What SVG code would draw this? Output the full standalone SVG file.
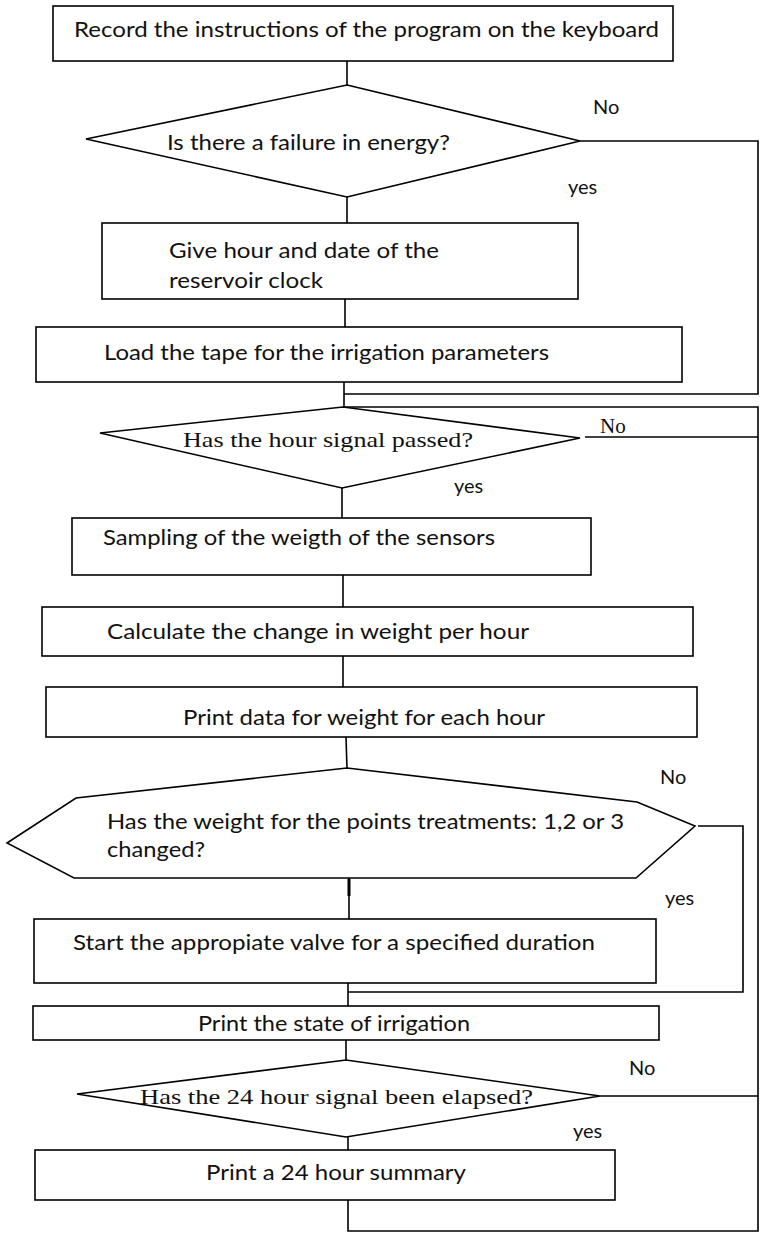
<svg xmlns="http://www.w3.org/2000/svg" width="761" height="1240" viewBox="0 0 761 1240">
<style>
.s{fill:#fff;stroke:#000;stroke-width:1.6}
.c{fill:none;stroke:#000;stroke-width:1.6}
.t{font-family:Lato,"Liberation Sans",sans-serif;font-size:22px;fill:#111}
.r{font-family:"Liberation Serif",serif;font-size:21px;fill:#111}
.l{font-family:Lato,"Liberation Sans",sans-serif;font-size:20px;fill:#111}
</style>
<rect width="761" height="1240" fill="#fff"/>
<g id="connectors">
<path class="c" d="M347,61V85"/>
<path class="c" d="M580,141H758V394H344"/>
<path class="c" d="M347,197V223"/>
<path class="c" d="M345,299V327"/>
<path class="c" d="M344,382V407"/>
<path class="c" d="M343,407H758V1231H348V1200"/>
<path class="c" d="M585,437H758"/>
<path class="c" d="M342,488V518"/>
<path class="c" d="M343,575V607"/>
<path class="c" d="M343,656V687"/>
<path class="c" d="M346,737L347,768"/>
<path class="c" d="M349,878V919"/>
<path d="M349,879V896" stroke="#000" stroke-width="3"/>
<path class="c" d="M698,826H743V992H348"/>
<path class="c" d="M348,983V1006"/>
<path class="c" d="M346,1040V1060"/>
<path class="c" d="M600,1096H758"/>
<path class="c" d="M348,1137V1150"/>
<text class="l" x="593" y="114">No</text>
<text class="l" x="568" y="194">yes</text>
<text class="r" x="600" y="433">No</text>
<text class="l" x="454" y="493">yes</text>
<text class="l" x="660" y="784">No</text>
<text class="l" x="665" y="905">yes</text>
<text class="l" x="629" y="1075">No</text>
<text class="l" x="573" y="1138">yes</text>
</g>
<g id="n1">
<rect class="s" x="53" y="6" width="620" height="55"/>
<text class="t" x="74" y="37" textLength="585" lengthAdjust="spacingAndGlyphs">Record the instructions of the program on the keyboard</text>
</g>
<g id="n2">
<polygon class="s" points="347,85 580,141 347,197 86,139"/>
<text class="t" x="167" y="150" textLength="283" lengthAdjust="spacingAndGlyphs">Is there a failure in energy?</text>
</g>
<g id="n3">
<rect class="s" x="102" y="223" width="476" height="76"/>
<text class="t" x="169" y="258" textLength="270" lengthAdjust="spacingAndGlyphs">Give hour and date of the</text>
<text class="t" x="169" y="288" textLength="154" lengthAdjust="spacingAndGlyphs">reservoir clock</text>
</g>
<g id="n4">
<rect class="s" x="36" y="327" width="646" height="55"/>
<text class="t" x="104" y="360" textLength="445" lengthAdjust="spacingAndGlyphs">Load the tape for the irrigation parameters</text>
</g>
<g id="n5">
<polygon class="s" points="343,407 580,438 342,488 100,433"/>
<text class="r" x="183" y="447" textLength="290" lengthAdjust="spacingAndGlyphs">Has the hour signal passed?</text>
</g>
<g id="n6">
<rect class="s" x="72" y="518" width="519" height="57"/>
<text class="t" x="103" y="545" textLength="392" lengthAdjust="spacingAndGlyphs">Sampling of the weigth of the sensors</text>
</g>
<g id="n7">
<rect class="s" x="42" y="607" width="651" height="49"/>
<text class="t" x="107" y="639" textLength="422" lengthAdjust="spacingAndGlyphs">Calculate the change in weight per hour</text>
</g>
<g id="n8">
<rect class="s" x="46" y="687" width="651" height="50"/>
<text class="t" x="183" y="725" textLength="362" lengthAdjust="spacingAndGlyphs">Print data for weight for each hour</text>
</g>
<g id="n9">
<polygon class="s" points="347,768 637,802 695,826 636,878 74,878 7,843 76,798"/>
<text class="t" x="107" y="829" textLength="517" lengthAdjust="spacingAndGlyphs">Has the weight for the points treatments: 1,2 or 3</text>
<text class="t" x="107" y="857" textLength="98" lengthAdjust="spacingAndGlyphs">changed?</text>
</g>
<g id="n10">
<rect class="s" x="34" y="919" width="622" height="64"/>
<text class="t" x="73" y="950" textLength="522" lengthAdjust="spacingAndGlyphs">Start the appropiate valve for a specified duration</text>
</g>
<g id="n11">
<rect class="s" x="33" y="1006" width="626" height="34"/>
<text class="t" x="198" y="1031" textLength="272" lengthAdjust="spacingAndGlyphs">Print the state of irrigation</text>
</g>
<g id="n12">
<polygon class="s" points="346,1060 600,1096 346,1137 77,1094"/>
<text class="r" x="140" y="1104" textLength="393" lengthAdjust="spacingAndGlyphs">Has the 24 hour signal been elapsed?</text>
</g>
<g id="n13">
<rect class="s" x="35" y="1150" width="580" height="50"/>
<text class="t" x="206" y="1180" textLength="260" lengthAdjust="spacingAndGlyphs">Print a 24 hour summary</text>
</g>
</svg>
